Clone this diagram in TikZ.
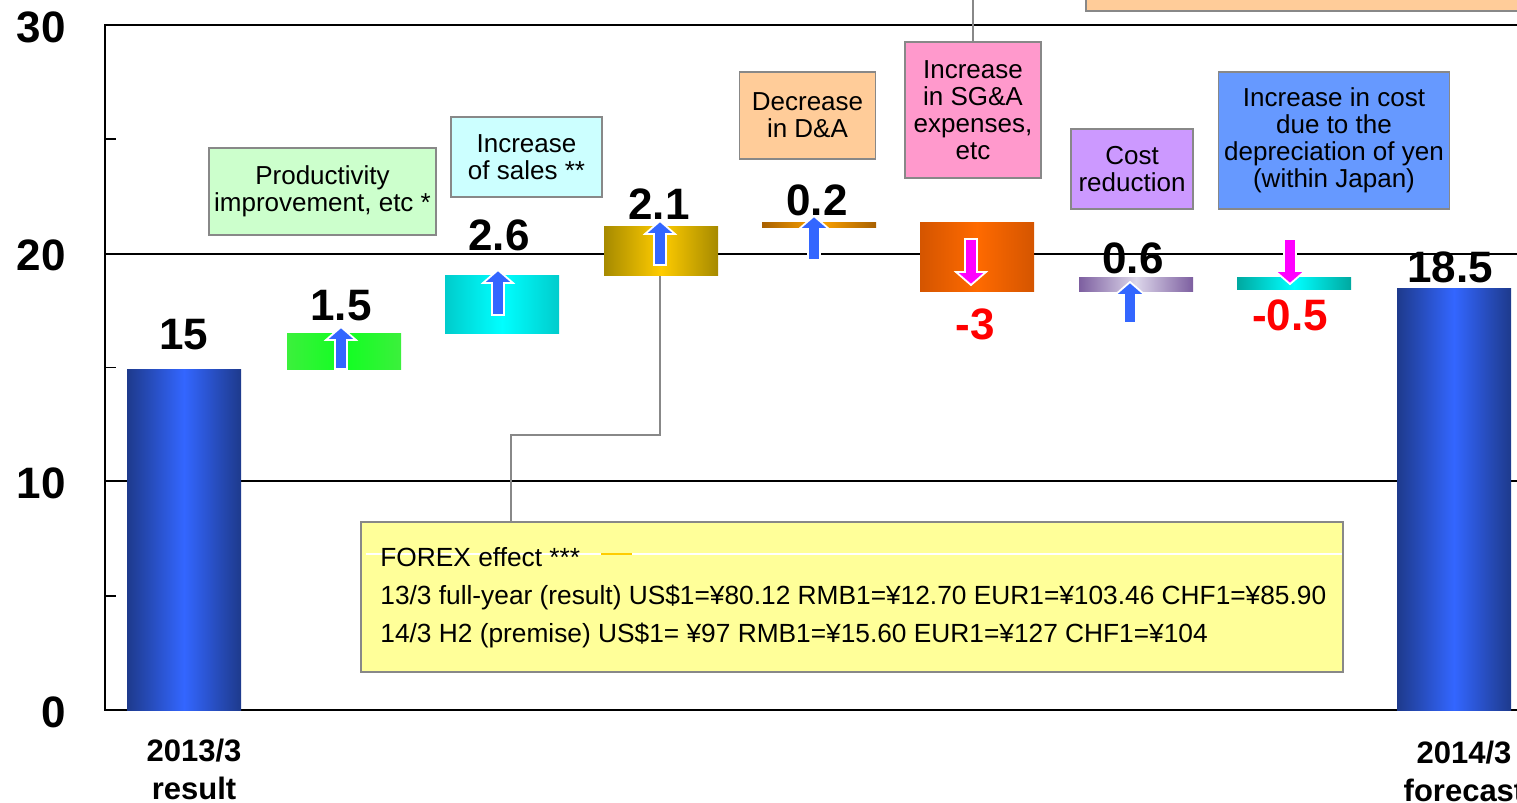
\documentclass[tikz,border=0pt]{standalone}
\usepackage{fontspec}
\setmainfont{Liberation Sans}
\usetikzlibrary{calc}

\definecolor{bluE}{HTML}{1E3A8C}
\definecolor{bluM}{HTML}{3366FF}
\definecolor{grnE}{HTML}{3CF03C}
\definecolor{grnM}{HTML}{11FF22}
\definecolor{cynE}{HTML}{00CCCC}
\definecolor{cynM}{HTML}{00FFFF}
\definecolor{gldE}{HTML}{A68A00}
\definecolor{gldM}{HTML}{FFCC00}
\definecolor{daE}{HTML}{A86000}
\definecolor{daM}{HTML}{FFA500}
\definecolor{orgE}{HTML}{D45500}
\definecolor{orgM}{HTML}{FF6A00}
\definecolor{purE}{HTML}{7D5FA0}
\definecolor{purM}{HTML}{DCD6EA}
\definecolor{tealE}{HTML}{00A8A0}
\definecolor{tealM}{HTML}{00FFFF}
\definecolor{prodF}{HTML}{CCFFCC}
\definecolor{salesF}{HTML}{CCFFFF}
\definecolor{daF}{HTML}{FFCC99}
\definecolor{sgaF}{HTML}{FF99CC}
\definecolor{costF}{HTML}{CC99FF}
\definecolor{yenF}{HTML}{6699FF}
\definecolor{forexF}{HTML}{FFFF99}
\definecolor{boxgray}{HTML}{888888}
\definecolor{arrblue}{HTML}{3366FF}
\definecolor{arrmag}{HTML}{FF00FF}
\definecolor{negred}{HTML}{FF0000}

\newcommand{\px}{0.5pt}
\newcommand{\uparr}[3]{\filldraw[fill=arrblue, draw=white, line width=0.9pt]
  (#1-6,#2) -- (#1-6,#3+13) -- (#1-15,#3+13) -- (#1,#3) -- (#1+15,#3+13) -- (#1+6,#3+13) -- (#1+6,#2) -- cycle;}
\newcommand{\dnarr}[3]{\filldraw[fill=arrmag, draw=white, line width=0.9pt]
  (#1-6,#2) -- (#1-6,#3-13) -- (#1-15,#3-13) -- (#1,#3) -- (#1+15,#3-13) -- (#1+6,#3-13) -- (#1+6,#2) -- cycle;}

\tikzset{
  lbl/.style={draw=boxgray, line width=0.8pt, align=center, inner sep=0pt,
    font=\fontsize{13}{13.5}\selectfont},
  num/.style={inner sep=0pt, font=\fontsize{22}{24}\selectfont\bfseries},
  axlbl/.style={anchor=east, inner sep=0pt, font=\fontsize{22}{24}\selectfont\bfseries},
  catlbl/.style={align=center, inner sep=0pt, font=\fontsize{15.5}{19}\selectfont\bfseries},
  conn/.style={draw=boxgray, line width=0.7pt}
}

\begin{document}
\begin{tikzpicture}[x=0.5pt, y=-0.5pt]
\useasboundingbox (0,0) rectangle (1517,803);
\draw[line width=0.6pt] (105,254) -- (1517,254);
\draw[line width=0.6pt] (105,481) -- (1517,481);
\draw[line width=1pt] (1517,25) -- (105,25) -- (105,710) -- (1517,710);
\foreach \v in {5,15,25}
  \draw[line width=0.8pt] (105,{710-22.83*\v}) --++(11,0);
\foreach \v in {0,10,20,30}
  \node[axlbl] (ax\v) at (66,{712-22.83*\v}) {\v};

\coordinate (goldbot) at (660,275);
\coordinate (bend) at (511,435);
\coordinate (sgatop) at (973,-5);

\node[lbl, fill=forexF, minimum width=982*\px, minimum height=150*\px] (forex) at (852,597) {};
\draw[white, line width=0.6pt] (366,554) -- (1342,554);
\draw[gldM, line width=0.8pt] (601,554) -- (632,554);
\node[anchor=west, align=left, inner sep=0pt, font=\fontsize{13.15}{19}\selectfont] (forextxt) at (380,598)
  {FOREX effect ***\\
   13/3 full-year (result) US\$1=¥80.12 RMB1=¥12.70 EUR1=¥103.46 CHF1=¥85.90\\
   14/3 H2 (premise) US\$1= ¥97 RMB1=¥15.60 EUR1=¥127 CHF1=¥104};
\draw[conn] (goldbot) |- (bend) -- (bend |- forex.north);

\foreach \xl/\yt/\yb/\ce/\cm in {127/369/710/bluE/bluM, 287/333/369/grnE/grnM,
  445/275/333/cynE/cynM, 604/226/275/gldE/gldM, 762/222/227/daE/daM,
  920/222/291/orgE/orgM, 1079/277/291/purE/purM, 1237/277/289/tealE/tealM,
  1397/288/710/bluE/bluM}
  \shade[left color=\ce, right color=\ce, middle color=\cm] (\xl,\yt) rectangle (\xl+114,\yb);

\uparr{341}{369}{327}
\uparr{498}{315}{270}
\uparr{660}{265}{221}
\uparr{814}{260}{216}
\uparr{1130}{323}{282}
\dnarr{971}{239}{285}
\dnarr{1290}{239}{284}

\foreach \x/\y/\v [count=\i] in {184/335/15, 341/306/1.5, 499/235/2.6, 659/204/2.1,
  817/200/0.2, 1133/258/0.6, 1450/267/18.5}
  \node[num] (val\i) at (\x,\y) {\v};
\node[num, text=negred] (valsga) at (975,324) {-3};
\node[num, text=negred] (valyen) at (1290,315) {-0.5};

\node[lbl, fill=prodF, minimum width=227*\px, minimum height=87*\px] (prod) at (322.5,191.5)
  {Productivity\\improvement, etc *};
\node[lbl, fill=salesF, minimum width=151*\px, minimum height=80*\px] (sales) at (526.5,157)
  {Increase\\of sales **};
\node[lbl, fill=daF, minimum width=136*\px, minimum height=87*\px] (da) at (807.5,115.5)
  {Decrease\\in D\&A};
\node[lbl, fill=sgaF, minimum width=136*\px, minimum height=136*\px] (sga) at (973,110)
  {Increase\\in SG\&A\\expenses,\\etc};
\node[lbl, fill=costF, minimum width=122*\px, minimum height=80*\px] (cost) at (1132,169)
  {Cost\\reduction};
\node[lbl, fill=yenF, minimum width=231*\px, minimum height=137*\px] (yen) at (1334,140.5)
  {Increase in cost\\due to the\\depreciation of yen\\(within Japan)};
\draw[conn] (sga.north) -- (sga.north |- sgatop);
\filldraw[fill=daF, draw=boxgray, line width=0.8pt] (1086,-20) rectangle (1540,11);

\node[catlbl] (cat1) at (194,769) {2013/3\\result};
\node[catlbl] (cat2) at (1464,771) {2014/3\\forecast};
\end{tikzpicture}
\end{document}
